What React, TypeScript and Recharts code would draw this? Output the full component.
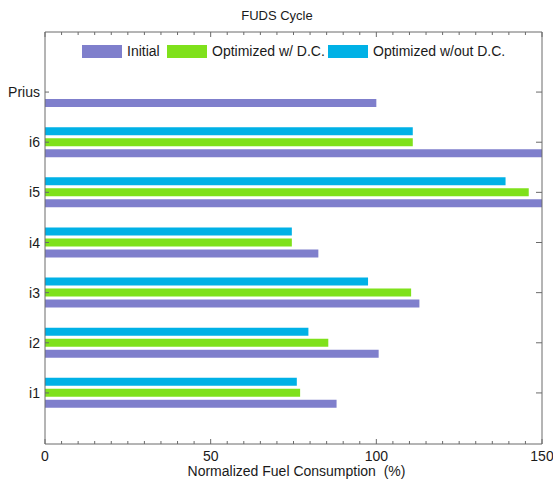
import React from 'react';
import { BarChart, Bar, XAxis, YAxis, Legend } from 'recharts';

const categories = ['Prius', 'i6', 'i5', 'i4', 'i3', 'i2', 'i1'];
const initialValues = [100, 150, 150, 82.5, 113, 100.7, 88];
const optimizedWithDC = [null, 111, 146, 74.5, 110.5, 85.5, 77];
const optimizedWithoutDC = [null, 111, 139, 74.5, 97.5, 79.5, 76];
const xTicks = [0, 5, 10, 15, 20, 25, 30, 35, 40, 45, 50, 55, 60, 65, 70, 75, 80, 85, 90, 95, 100, 105, 110, 115, 120, 125, 130, 135, 140, 145, 150];
const xTickLabels = [0, 50, 100, 150];
const seriesNames = ['Initial', 'Optimized w/ D.C.', 'Optimized w/out D.C.'];
const seriesColors = ['#7F7FCC', '#7FE11B', '#00B1E6'];
const chartTitle = 'FUDS Cycle';
const xAxisTitle = 'Normalized Fuel Consumption\u00a0 (%)';

const data = categories.map((name, i) => ({
  name,
  initial: initialValues[i],
  withDC: optimizedWithDC[i],
  withoutDC: optimizedWithoutDC[i],
}));

const AXIS = '#6a6a6a';
const TEXT = '#1a1a1a';
const FONT = '"Liberation Sans", Arial, sans-serif';

const XTick = (props: any) => {
  const { x, y, payload } = props;
  const v = payload.value;
  const major = xTickLabels.includes(v);
  return (
    <g>
      <line x1={x} x2={x} y1={y} y2={y - (major ? 5 : 3)} stroke={AXIS} strokeWidth={1} />
      {major && (
        <text x={x} y={y + 17} textAnchor="middle" fontSize={14} fill={TEXT} fontFamily={FONT}>
          {v}
        </text>
      )}
    </g>
  );
};

const TopTick = (props: any) => {
  const { x, y, payload } = props;
  const major = xTickLabels.includes(payload.value);
  return <line x1={x} x2={x} y1={y} y2={y + (major ? 5 : 3)} stroke={AXIS} strokeWidth={1} />;
};

const RightTick = (props: any) => {
  const { x, y } = props;
  return <line x1={x} x2={x - 6} y1={y} y2={y} stroke={AXIS} strokeWidth={1} />;
};

const YTick = (props: any) => {
  const { x, y, payload } = props;
  return (
    <text x={x - 5} y={y + 5} textAnchor="end" fontSize={14} fill={TEXT} fontFamily={FONT}>
      {payload.value}
    </text>
  );
};

const YTickLine = (props: any) => {
  const { x, y } = props;
  return <line x1={x} x2={x + 4} y1={y} y2={y} stroke={AXIS} strokeWidth={1} />;
};

const legendOffsets = [0, 85, 246];

const LegendContent = () => (
  <div style={{ position: 'relative', width: 420, height: 15, fontFamily: FONT }}>
    {seriesNames.map((n, i) => (
      <div
        key={n}
        style={{
          position: 'absolute',
          left: legendOffsets[i],
          top: 0,
          display: 'flex',
          alignItems: 'center',
          height: 15,
          whiteSpace: 'nowrap',
        }}
      >
        <div style={{ width: 40, height: 13, background: seriesColors[i] }} />
        <span style={{ marginLeft: 5, fontSize: 14, lineHeight: '15px', color: TEXT }}>{n}</span>
      </div>
    ))}
  </div>
);

export default function App() {
  return (
    <div style={{ position: 'absolute', left: 0, top: 0, width: 553, height: 484, background: '#fff', fontFamily: FONT }}>
      <BarChart
        width={553}
        height={484}
        data={data}
        layout="vertical"
        margin={{ top: 31, right: 10, left: 0, bottom: 0 }}
        barGap={3}
      >
        <text x={277} y={20} textAnchor="middle" fontSize={13} fill={TEXT} fontFamily={FONT}>
          {chartTitle}
        </text>
        <YAxis
          yAxisId="tickline"
          type="category"
          dataKey="name"
          width={1}
          mirror
          zIndex={100}
          padding={{ top: 35, bottom: 26 }}
          interval={0}
          tickLine={false}
          tickSize={0}
          tickMargin={0}
          tick={<YTickLine />}
          axisLine={false}
        />
        <Bar dataKey="withoutDC" name={seriesNames[2]} fill={seriesColors[2]} barSize={8} isAnimationActive={false} />
        <Bar dataKey="withDC" name={seriesNames[1]} fill={seriesColors[1]} barSize={8} isAnimationActive={false} />
        <Bar dataKey="initial" name={seriesNames[0]} fill={seriesColors[0]} barSize={8} isAnimationActive={false} />
        <XAxis
          type="number"
          domain={[0, 150]}
          ticks={xTicks}
          interval={0}
          allowDataOverflow
          height={40}
          tickLine={false}
          tickSize={0}
          tickMargin={0}
          tick={<XTick />}
          axisLine={{ stroke: AXIS, strokeWidth: 1 }}
          label={{ value: xAxisTitle, position: 'insideBottom', offset: 8, fontSize: 14, fill: TEXT, dx: 3 }}
        />
        <XAxis
          xAxisId="top"
          orientation="top"
          type="number"
          domain={[0, 150]}
          allowDataOverflow
          ticks={xTicks}
          interval={0}
          height={1}
          tickLine={false}
          tickSize={0}
          tickMargin={0}
          tick={<TopTick />}
          axisLine={{ stroke: AXIS, strokeWidth: 1 }}
        />
        <YAxis
          type="category"
          dataKey="name"
          width={45}
          padding={{ top: 35, bottom: 26 }}
          interval={0}
          tickLine={false}
          tickSize={0}
          tickMargin={0}
          tick={<YTick />}
          axisLine={{ stroke: AXIS, strokeWidth: 1 }}
        />
        <YAxis
          yAxisId="right"
          orientation="right"
          type="category"
          dataKey="name"
          width={1}
          padding={{ top: 35, bottom: 26 }}
          interval={0}
          tickLine={false}
          tickSize={0}
          tickMargin={0}
          tick={<RightTick />}
          axisLine={{ stroke: AXIS, strokeWidth: 1 }}
        />
        <Legend
          layout="horizontal"
          align="center"
          verticalAlign="middle"
          content={<LegendContent />}
          wrapperStyle={{ position: 'absolute', top: 43.5, left: 82, width: 420, height: 15 }}
        />
      </BarChart>
    </div>
  );
}
